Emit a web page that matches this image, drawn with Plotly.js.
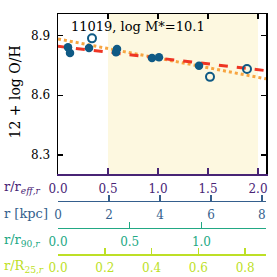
<!DOCTYPE html>
<html>
<head>
<meta charset="utf-8">
<script src="https://cdn.plot.ly/plotly-3.0.1.min.js"></script>
<style>html,body{margin:0;padding:0;background:#fff;}#chart{width:277px;height:277px;}</style>
</head>
<body>
<div id="chart"></div>
<script>
// Data (r / r_eff, 12 + log O/H)
const filledR = [0.10, 0.12, 0.31, 0.58, 0.59, 0.94, 1.01, 1.41];
const filledOH = [8.840, 8.812, 8.837, 8.815, 8.832, 8.786, 8.790, 8.748];
const openR = [0.34, 1.52, 1.89];
const openOH = [8.885, 8.692, 8.731];
const fitR = [0, 2.08];
const fitDashed = [8.845, 8.723];
const fitDotted = [8.882, 8.682];
const shadeRange = [0.5, 2.0];
const effTicks = [0, 0.5, 1.0, 1.5, 2.0];
const kpcTicks = [0, 2, 4, 6, 8];
const r90Ticks = [0, 0.5, 1.0];
const r25Ticks = [0, 0.2, 0.4, 0.6, 0.8];
const yTicks = [8.3, 8.6, 8.9];
const label = "11019, log M*=10.1";

const serif = "'DejaVu Serif', serif";
const cPurple = "#482475", cBlue = "#355f8d", cGreen = "#22a884", cLime = "#bddf26";
const ptColor = "#0f5a85";

const traces = [
  {x: fitR, y: fitDotted, mode: "lines", line: {color: "#f7a541", width: 3, dash: "dot"}, hoverinfo: "skip"},
  {x: fitR, y: fitDashed, mode: "lines", line: {color: "#ee3524", width: 3, dash: "dash"}, hoverinfo: "skip"},
  {x: filledR, y: filledOH, mode: "markers", marker: {color: ptColor, size: 8.5, symbol: "circle"}},
  {x: openR, y: openOH, mode: "markers", marker: {color: ptColor, size: 8, symbol: "circle-open", line: {color: ptColor, width: 2}}},
  // carriers so the secondary radius axes are drawn (no visible marks)
  {x: kpcTicks, y: kpcTicks.map(() => null), xaxis: "x2", mode: "markers", hoverinfo: "skip"},
  {x: r90Ticks, y: r90Ticks.map(() => null), xaxis: "x3", mode: "markers", hoverinfo: "skip"},
  {x: r25Ticks, y: r25Ticks.map(() => null), xaxis: "x4", mode: "markers", hoverinfo: "skip"},
  {x: effTicks, y: effTicks.map(() => null), xaxis: "x5", mode: "markers", hoverinfo: "skip"}
];

function freeAxis(range, ticks, color, pos, fmt) {
  return {
    overlaying: "x", anchor: "free", position: pos, side: "bottom",
    range: range, tickvals: ticks, ticktext: ticks.map(fmt),
    showline: true, linecolor: color, linewidth: 1.5,
    ticks: "inside", ticklen: 6, tickwidth: 1.5, tickcolor: color,
    tickfont: {family: serif, size: 12, color: color},
    ticklabelstandoff: 2,
    showgrid: false, zeroline: false, fixedrange: true
  };
}

const f1 = v => v.toFixed(1);
const f0 = v => v.toFixed(0);

const layout = {
  width: 277, height: 277,
  margin: {l: 58, r: 11, t: 14, b: 0},
  paper_bgcolor: "#fff", plot_bgcolor: "#fff",
  showlegend: false,
  xaxis: {
    range: [0, 2.08], tickvals: effTicks, ticktext: effTicks.map(f1),
    showline: true, linecolor: cPurple, linewidth: 1.5, mirror: false,
    ticks: "inside", ticklen: 6, tickwidth: 1.5, tickcolor: cPurple,
    tickfont: {family: serif, size: 12, color: cPurple},
    ticklabelstandoff: 3,
    showgrid: false, zeroline: false, anchor: "y"
  },
  xaxis2: freeAxis([0, 8.16], kpcTicks, cBlue, 0.289, f0),
  xaxis3: freeAxis([0, 1.45], r90Ticks, cGreen, 0.1875, f1),
  xaxis4: freeAxis([0, 0.889], r25Ticks, cLime, 0.0863, f1),
  xaxis5: {
    overlaying: "x", side: "top", anchor: "y", range: [0, 2.08],
    tickvals: effTicks, showticklabels: false,
    showline: true, linecolor: "#000", linewidth: 1.5,
    ticks: "inside", ticklen: 5, tickwidth: 1.2, tickcolor: "#000",
    showgrid: false, zeroline: false
  },
  yaxis: {
    domain: [0.3916, 1], range: [8.205, 9.007],
    tickvals: yTicks, ticktext: yTicks.map(f1),
    showline: true, linecolor: "#000", linewidth: 1.5, mirror: "ticks",
    ticks: "inside", ticklen: 5, tickwidth: 1.2, tickcolor: "#000",
    tickfont: {family: serif, size: 12, color: "#000"},
    ticklabelstandoff: 4,
    showgrid: false, zeroline: false
  },
  shapes: [{
    type: "rect", xref: "x", yref: "y domain",
    x0: shadeRange[0], x1: shadeRange[1], y0: 0, y1: 1,
    fillcolor: "#fdf8e0", line: {width: 0}, layer: "below"
  }],
  annotations: [
    {text: label, xref: "paper", yref: "paper", x: (69-58)/208, y: (277-27)/263, xanchor: "left", yanchor: "middle", showarrow: false, font: {family: serif, size: 13, color: "#000"}},
    {text: "12 + log O/H", xref: "paper", yref: "paper", x: (14-58)/208, y: (277-92.5)/263, xanchor: "center", yanchor: "middle", textangle: -90, showarrow: false, font: {family: serif, size: 14, color: "#000"}},
    {text: "r/r<sub><i>eff,r</i></sub>", xref: "paper", yref: "paper", x: (2-58)/208, y: (277-187)/263, xanchor: "left", yanchor: "middle", showarrow: false, font: {family: serif, size: 13, color: cPurple}},
    {text: "r [kpc]", xref: "paper", yref: "paper", x: (2-58)/208, y: (277-213)/263, xanchor: "left", yanchor: "middle", showarrow: false, font: {family: serif, size: 13, color: cBlue}},
    {text: "r/r<sub>90,<i>r</i></sub>", xref: "paper", yref: "paper", x: (2-58)/208, y: (277-240)/263, xanchor: "left", yanchor: "middle", showarrow: false, font: {family: serif, size: 13, color: cGreen}},
    {text: "r/R<sub>25,<i>r</i></sub>", xref: "paper", yref: "paper", x: (2-58)/208, y: (277-266)/263, xanchor: "left", yanchor: "middle", showarrow: false, font: {family: serif, size: 13, color: cLime}}
  ]
};

Plotly.newPlot("chart", traces, layout, {staticPlot: true, displayModeBar: false});
</script>
</body>
</html>
